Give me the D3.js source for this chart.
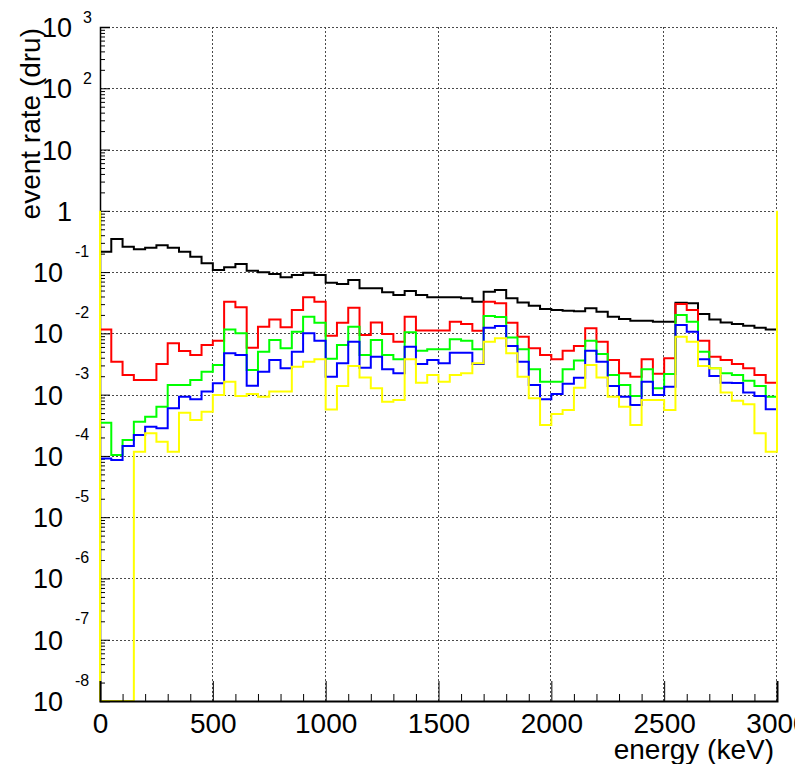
<!DOCTYPE html>
<html>
<head>
<meta charset="utf-8">
<script src="https://cdn.jsdelivr.net/npm/d3@7"></script>
<style>
  html, body { margin: 0; padding: 0; background: #fff; }
  svg { display: block; font-family: "Liberation Sans", Arial, Helvetica, sans-serif; }
</style>
</head>
<body>
<svg id="chart" width="809" height="764"></svg>
<script>
// Energy binning: 60 bins of 50 keV from 0 to 3000 keV
const binWidth = 50;
const binStarts = d3.range(0, 3000, binWidth);

// Event rate per bin (dru) for each spectrum
const blackRate = [0.215, 0.347, 0.26, 0.235, 0.25, 0.273, 0.25, 0.215, 0.178, 0.139,
  0.108, 0.12, 0.136, 0.105, 0.099, 0.093, 0.082, 0.0895, 0.098, 0.0895,
  0.067, 0.0638, 0.0743, 0.0543, 0.0543, 0.0467, 0.0422, 0.0491, 0.0422, 0.0387,
  0.0387, 0.0387, 0.0373, 0.0329, 0.0479, 0.051, 0.0373, 0.032, 0.0283, 0.0249,
  0.024, 0.0235, 0.023, 0.0256, 0.0226, 0.0187, 0.0171, 0.0161, 0.0161, 0.0155,
  0.0155, 0.0316, 0.031, 0.0207, 0.0169, 0.0151, 0.0142, 0.0133, 0.0124, 0.0116];

const redRate = [0.0116, 0.00345, 0.00209, 0.00173, 0.00173, 0.00316, 0.00687, 0.00515, 0.00443, 0.00645,
  0.00759, 0.0329, 0.0266, 0.00583, 0.01285, 0.0169, 0.0126, 0.024, 0.0387, 0.0329,
  0.0091, 0.0149, 0.0262, 0.0094, 0.015, 0.00975, 0.0073, 0.0187, 0.0111, 0.0111,
  0.0111, 0.0155, 0.0142, 0.011, 0.0329, 0.0309, 0.0149, 0.0088, 0.00569, 0.00443,
  0.00377, 0.0052, 0.0062, 0.0121, 0.0073, 0.00367, 0.00223, 0.00196, 0.00377, 0.0022,
  0.00391, 0.0301, 0.024, 0.0076, 0.00416, 0.00367, 0.00316, 0.00269, 0.00209, 0.00157];

const greenRate = [3.48e-4, 1.03e-4, 1.82e-4, 3.62e-4, 4.37e-4, 6.35e-4, 1.44e-3, 1.44e-3, 1.73e-3, 2.37e-3,
  3.04e-3, 0.0116, 0.01, 2.52e-3, 5.02e-3, 7.78e-3, 5.69e-3, 0.0106, 0.0187, 0.0149,
  3.85e-3, 6.45e-3, 0.0128, 4.43e-3, 7.78e-3, 4.43e-3, 3.77e-3, 0.0104, 5.21e-3, 5.48e-3,
  5.48e-3, 7.98e-3, 7.6e-3, 5.48e-3, 0.0192, 0.0185, 8.6e-3, 5.48e-3, 2.59e-3, 1.63e-3,
  1.63e-3, 2.6e-3, 3.6e-3, 7.6e-3, 4.6e-3, 2.09e-3, 1.44e-3, 9.5e-4, 2.59e-3, 1.27e-3,
  2.17e-3, 0.0199, 0.0155, 5.02e-3, 2.69e-3, 2.23e-3, 2.09e-3, 1.69e-3, 1.38e-3, 9.25e-4];

const blueRate = [9.1e-5, 8.6e-5, 1.45e-4, 2.19e-4, 3.0e-4, 2.82e-4, 5.98e-4, 9.27e-4, 8.38e-4, 1.12e-3,
  1.53e-3, 4.72e-3, 4.43e-3, 1.4e-3, 2.37e-3, 3.67e-3, 2.69e-3, 5.02e-3, 0.01, 7.6e-3,
  1.96e-3, 3.24e-3, 7.3e-3, 2.75e-3, 4.16e-3, 2.59e-3, 2.23e-3, 6.07e-3, 3.16e-3, 3.67e-3,
  3.24e-3, 4.84e-3, 4.84e-3, 3.16e-3, 0.0124, 0.0132, 6.2e-3, 3.45e-3, 1.44e-3, 8.4e-4,
  1.02e-3, 1.5e-3, 1.88e-3, 5.2e-3, 3.45e-3, 1.38e-3, 9.25e-4, 6.78e-4, 1.63e-3, 9.87e-4,
  1.35e-3, 0.0137, 0.0106, 3.77e-3, 2.01e-3, 1.57e-3, 1.55e-3, 1.08e-3, 9.5e-4, 5.75e-4];

const yellowRate = [0, 0, 0, 1.17e-4, 2.34e-4, 1.71e-4, 1.17e-4, 5.07e-4, 3.85e-4, 5.27e-4,
  9.87e-4, 1.63e-3, 9.5e-4, 1.02e-3, 9.25e-4, 1.12e-3, 1.12e-3, 2.86e-3, 3.45e-3, 3.77e-3,
  5.7e-4, 1.38e-3, 2.93e-3, 1.91e-3, 1.27e-3, 7.67e-4, 8.17e-4, 3.77e-3, 1.57e-3, 2.09e-3,
  1.63e-3, 2.09e-3, 2.23e-3, 3.24e-3, 7.3e-3, 8.3e-3, 4.72e-3, 1.96e-3, 8.7e-4, 3.19e-4,
  4.83e-4, 5.6e-4, 1.3e-3, 3.04e-3, 1.91e-3, 9.25e-4, 6.35e-4, 3.19e-4, 8.17e-4, 8.17e-4,
  5.6e-4, 8.8e-3, 7.3e-3, 2.93e-3, 2.69e-3, 1.08e-3, 7.97e-4, 7.0e-4, 2.34e-4, 1.17e-4];

// The yellow outline is closed at both ends up to this level
const yellowEdgeLevel = 1;

const seriesList = [
  { name: "black", color: "#000000", values: blackRate },
  { name: "red", color: "#ff0000", values: redRate },
  { name: "green", color: "#00ff00", values: greenRate },
  { name: "blue", color: "#0000ff", values: blueRate },
  { name: "yellow", color: "#ffff00", values: yellowRate, edge: yellowEdgeLevel }
];

// Axis ticks
const xMajorTicks = [0, 500, 1000, 1500, 2000, 2500, 3000];
const xMinorTicks = d3.range(0, 3001, 100).filter(v => v % 500 !== 0);
const yExponents = d3.range(-8, 4);   // 10^-8 ... 10^3
const xTitle = "energy (keV)";
const yTitle = "event rate (dru)";

// Frame edges in pixels
const frameLeft = 100, frameRight = 777, frameTop = 27, frameBottom = 701;
const canvasRight = 795;   // drawable width of the canvas
const yMin = 1e-8, yMax = 1e3;

const svg = d3.select("#chart");
const defs = svg.append("defs");

const x = d3.scaleLinear().domain([0, 3000]).range([frameLeft, frameRight]);
const y = d3.scaleLog().domain([yMin, yMax]).range([frameBottom, frameTop]);

const yMajorTicks = yExponents.map(e => Math.pow(10, e));
const yMinorTicks = [];
yExponents.slice(0, -1).forEach(e => {
  for (let m = 2; m <= 9; m++) yMinorTicks.push(m * Math.pow(10, e));
});

// Dotted grid
const grid = svg.append("g")
  .attr("stroke", "#4a4a4a")
  .attr("stroke-width", 1)
  .attr("stroke-dasharray", "2,2");
grid.selectAll("line.h").data(yMajorTicks.filter(v => v > yMin)).join("line")
  .attr("class", "h")
  .attr("x1", frameLeft).attr("x2", frameRight)
  .attr("y1", d => Math.round(y(d)) + 0.5).attr("y2", d => Math.round(y(d)) + 0.5);
grid.selectAll("line.v").data(xMajorTicks.filter(v => v > 0)).join("line")
  .attr("class", "v")
  .attr("x1", d => Math.round(x(d)) - 0.5).attr("x2", d => Math.round(x(d)) - 0.5)
  .attr("y1", frameTop).attr("y2", frameBottom);

// Left axis (drawn beneath the histograms)
const yAxisG = svg.append("g").attr("transform", `translate(${frameLeft},0)`);
yAxisG.call(d3.axisLeft(y).tickValues(yMajorTicks).tickSize(-10).tickFormat(""));
yAxisG.append("g").call(d3.axisLeft(y).tickValues(yMinorTicks).tickSize(-5).tickFormat(""))
  .select(".domain").remove();
yAxisG.selectAll(".domain").attr("stroke", "#000").attr("stroke-width", 1.5);

// Histograms
defs.append("clipPath").attr("id", "frame")
  .append("rect").attr("x", frameLeft - 2).attr("y", frameTop - 2)
  .attr("width", frameRight - frameLeft + 4).attr("height", frameBottom - frameTop + 2);

const stepLine = d3.line()
  .x(d => x(d[0]))
  .y(d => y(Math.max(d[1], yMin)))
  .curve(d3.curveStepAfter);

const hists = svg.append("g").attr("clip-path", "url(#frame)");
seriesList.forEach(s => {
  let pts = binStarts.map((b, i) => [b, s.values[i]]);
  pts.push([3000, s.values[s.values.length - 1]]);
  if (s.edge !== undefined) {
    pts = [[0, s.edge]].concat(pts, [[3000, s.edge]]);
  }
  hists.append("path")
    .attr("d", stepLine(pts))
    .attr("fill", "none")
    .attr("stroke", s.color)
    .attr("stroke-width", 2)
    .attr("stroke-linejoin", "miter");
});

// Bottom axis; labels are cut at the canvas edge
defs.append("clipPath").attr("id", "canvas")
  .append("rect").attr("x", 0).attr("y", -40).attr("width", canvasRight).attr("height", 120);
const xAxisG = svg.append("g").attr("transform", `translate(0,${frameBottom})`)
  .attr("clip-path", "url(#canvas)");
xAxisG.call(d3.axisBottom(x).tickValues(xMajorTicks).tickSize(-20).tickPadding(12).tickFormat(d3.format("d")));
xAxisG.append("g").call(d3.axisBottom(x).tickValues(xMinorTicks).tickSize(-7).tickFormat(""))
  .select(".domain").remove();
xAxisG.selectAll("text").attr("font-size", 28).attr("fill", "#000")
  .attr("font-family", "'Liberation Sans', Arial, sans-serif");
xAxisG.selectAll(".domain").attr("stroke", "#000").attr("stroke-width", 2);

// Log labels: 10 with superscript exponent
const yLabels = svg.append("g").attr("fill", "#000");
yExponents.forEach(e => {
  const ty = y(Math.pow(10, e));
  if (e === 0 || e === 1) {
    yLabels.append("text").attr("x", 72).attr("y", ty + 10)
      .attr("text-anchor", "end").attr("font-size", 27)
      .text(e === 0 ? "1" : "10");
  } else if (e > 1) {
    yLabels.append("text").attr("x", 72).attr("y", ty + 10)
      .attr("text-anchor", "end").attr("font-size", 27).text("10");
    yLabels.append("text").attr("x", 83).attr("y", ty - 4.5)
      .attr("font-size", 16).text(String(e));
  } else {
    yLabels.append("text").attr("x", 63).attr("y", ty + 10)
      .attr("text-anchor", "end").attr("font-size", 27).text("10");
    yLabels.append("text").attr("x", 75).attr("y", ty - 15.5)
      .attr("font-size", 16).text(String(e));
  }
});

// Axis titles
svg.append("text")
  .attr("x", 774).attr("y", 759)
  .attr("text-anchor", "end").attr("font-size", 28).attr("fill", "#000")
  .text(xTitle);

svg.append("text")
  .attr("transform", "translate(40,28) rotate(-90)")
  .attr("text-anchor", "end").attr("font-size", 28).attr("fill", "#000")
  .text(yTitle);
</script>
</body>
</html>
